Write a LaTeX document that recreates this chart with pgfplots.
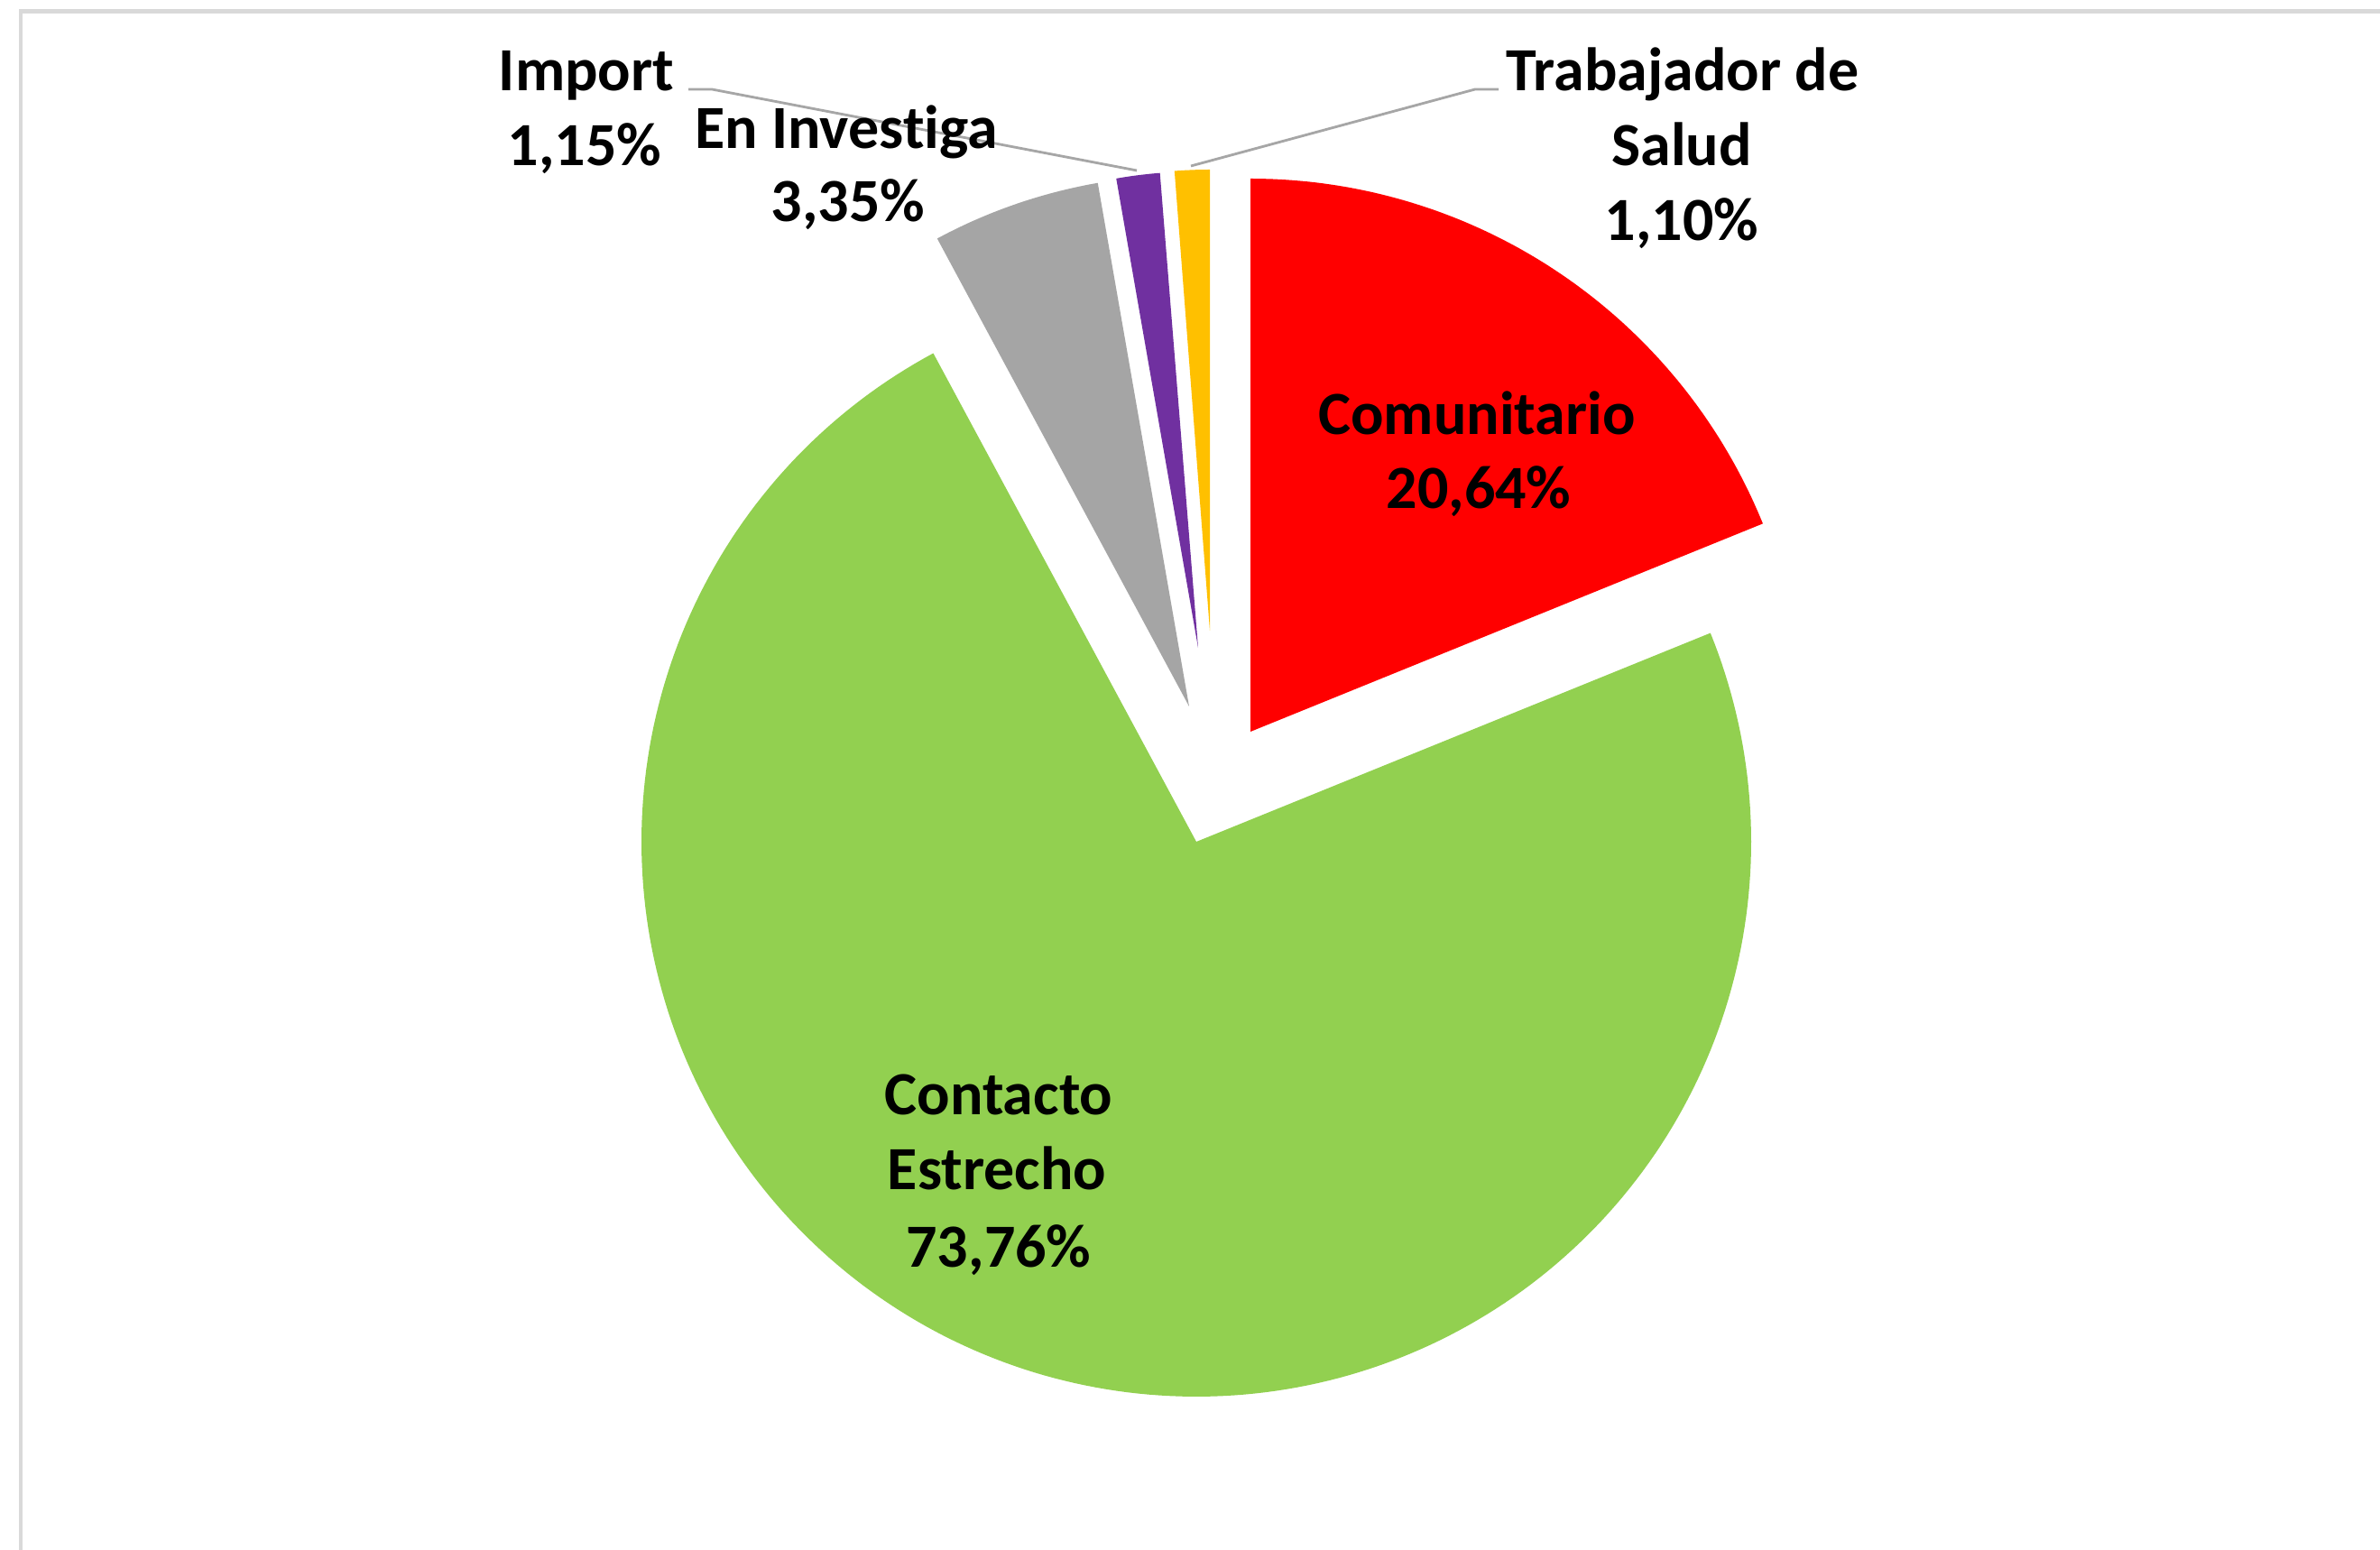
\documentclass[border=0pt]{standalone}
\usepackage{fontspec}
\setmainfont{Carlito}[Ligatures=NoCommon]
\usepackage{pgfplots}
\pgfplotsset{compat=1.18}
\definecolor{cRed}{HTML}{FF0000}
\definecolor{cGreen}{HTML}{92D050}
\definecolor{cGray}{HTML}{A5A5A5}
\definecolor{cPurple}{HTML}{7030A0}
\definecolor{cYellow}{HTML}{FFC000}
\definecolor{cFrame}{HTML}{D9D9D9}
\definecolor{cLeader}{HTML}{A6A6A6}
\tikzset{lbl/.style={anchor=base, inner sep=0pt, text=black, font=\fontsize{19.35pt}{23.6pt}\selectfont\bfseries}}
\begin{document}
\begin{tikzpicture}
\begin{axis}[
  scale only axis, width=26.38cm, height=17.18cm,
  xmin=0, xmax=2638, ymin=0, ymax=1718,
  hide axis, clip=true,
]
\fill[white] (rel axis cs:0,0) rectangle (rel axis cs:1,1);
% frame
\draw[cFrame, line width=1.3pt] (axis cs:22.8,0) -- (axis cs:22.8,1705.5) -- (axis cs:2638,1705.5);
% slices: vertex x, vertex y, radius, start angle, end angle (clockwise from 12 o'clock)
% Comunitario (exploded)
\addplot[draw=none, fill=cRed, domain=0:67.9, samples=90, variable=\t]
  ({1386+613*sin(\t)}, {907+613*cos(\t)}) -- (axis cs:1386,907) -- cycle;
% Contacto Estrecho
\addplot[draw=none, fill=cGreen, domain=67.9:331.7, samples=240, variable=\t]
  ({1326+615*sin(\t)}, {785+615*cos(\t)}) -- (axis cs:1326,785) -- cycle;
% En Investiga
\addplot[draw=none, fill=cGray, domain=331.7:350.1, samples=40, variable=\t]
  ({1318+589*sin(\t)}, {935+589*cos(\t)}) -- (axis cs:1318,935) -- cycle;
% Import
\addplot[draw=none, fill=cPurple, domain=350.1:355.4, samples=20, variable=\t]
  ({1328+528*sin(\t)}, {1000+528*cos(\t)}) -- (axis cs:1328,1000) -- cycle;
% Trabajador de Salud
\addplot[draw=none, fill=cYellow, domain=355.6:360, samples=20, variable=\t]
  ({1341+511*sin(\t)}, {1019+511*cos(\t)}) -- (axis cs:1341,1019) -- cycle;
% leader lines
\addplot[cLeader, line width=0.8pt, mark=none] coordinates {(763,1619) (789,1619) (1260,1529)};
\addplot[cLeader, line width=0.8pt, mark=none] coordinates {(1661,1619) (1635,1619) (1320,1534)};
% labels
\node[lbl] at (axis cs:1637,1236) {Comunitario};
\node[lbl] at (axis cs:1639,1154) {20,64\%};
\node[lbl] at (axis cs:1107,482) {Contacto};
\node[lbl] at (axis cs:1105,399) {Estrecho};
\node[lbl] at (axis cs:1107,313) {73,76\%};
\node[lbl] at (axis cs:938,1553) {En Investiga};
\node[lbl] at (axis cs:940,1472) {3,35\%};
\node[lbl] at (axis cs:650,1617) {Import};
\node[lbl] at (axis cs:648,1534) {1,15\%};
\node[lbl] at (axis cs:1865,1617) {Trabajador de};
\node[lbl] at (axis cs:1864,1534) {Salud};
\node[lbl] at (axis cs:1864,1451) {1,10\%};
\end{axis}
\end{tikzpicture}
\end{document}
